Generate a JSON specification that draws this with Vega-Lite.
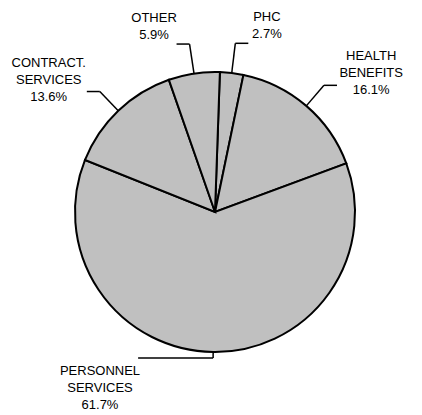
{
  "$schema": "https://vega.github.io/schema/vega-lite/v6.json",
  "width": 414,
  "height": 406,
  "autosize": {"type": "none"},
  "padding": {"left": 8, "top": 9, "right": 0, "bottom": 0},
  "background": "white",
  "config": {"view": {"stroke": null}},
  "data": {
    "values": [
      {"name": "PHC", "pct": 2.7, "order": 1},
      {"name": "HEALTH BENEFITS", "pct": 16.1, "order": 2},
      {"name": "PERSONNEL SERVICES", "pct": 61.7, "order": 3},
      {"name": "CONTRACT. SERVICES", "pct": 13.6, "order": 4},
      {"name": "OTHER", "pct": 5.9, "order": 5}
    ]
  },
  "transform": [
    {"window": [{"op": "sum", "field": "pct", "as": "cum"}], "sort": [{"field": "order"}], "frame": [null, 0]},
    {"calculate": "0.035 + 2*PI*(datum.cum - datum.pct/2)/100", "as": "a"},
    {"calculate": "sin(datum.a) >= 0 ? 1 : -1", "as": "side"},
    {"calculate": "158 + 12*cos(datum.a)", "as": "R"},
    {"calculate": "140*sin(datum.a)", "as": "px1"},
    {"calculate": "140*cos(datum.a)", "as": "py1"},
    {"calculate": "datum.R*sin(datum.a)", "as": "px2"},
    {"calculate": "datum.R*cos(datum.a)", "as": "py2"},
    {"calculate": "datum.px2 + (13 + 62*max(0, -cos(datum.a)))*datum.side", "as": "px3"},
    {"calculate": "max(length(split(datum.name,' ')[0]), length(split(datum.name,' ')[1] || ''), 4)", "as": "mx"},
    {"calculate": "indexof(datum.name, ' ') >= 0 ? 3 : 2", "as": "nl"},
    {"calculate": "datum.px3 + datum.side*(3 + 3.9*datum.mx)", "as": "tx"},
    {"calculate": "datum.py2 + 24*cos(datum.a) - 6 + (datum.nl - 1)*8.5", "as": "ty"},
    {"calculate": "replace(datum.name,' ','\\n') + '\\n' + format(datum.pct,'.1f') + '%'", "as": "label"}
  ],
  "layer": [
    {
      "mark": {"type": "arc", "outerRadius": 140, "fill": "#c0c0c0", "stroke": "black", "strokeWidth": 2},
      "encoding": {
        "theta": {"field": "pct", "type": "quantitative", "stack": true, "scale": {"range": [0.035, 6.31819]}},
        "order": {"field": "order", "type": "quantitative"}
      }
    },
    {
      "mark": {"type": "rule", "stroke": "black", "strokeWidth": 1.5},
      "encoding": {
        "x": {"field": "px1", "type": "quantitative", "scale": {"domain": [-207, 207], "nice": false, "zero": false}, "axis": null},
        "y": {"field": "py1", "type": "quantitative", "scale": {"domain": [-203, 203], "nice": false, "zero": false}, "axis": null},
        "x2": {"field": "px2"},
        "y2": {"field": "py2"}
      }
    },
    {
      "mark": {"type": "rule", "stroke": "black", "strokeWidth": 1.5},
      "encoding": {
        "x": {"field": "px2", "type": "quantitative", "scale": {"domain": [-207, 207], "nice": false, "zero": false}, "axis": null},
        "y": {"field": "py2", "type": "quantitative", "scale": {"domain": [-203, 203], "nice": false, "zero": false}, "axis": null},
        "x2": {"field": "px3"},
        "y2": {"field": "py2"}
      }
    },
    {
      "mark": {"type": "text", "font": "Liberation Sans", "fontSize": 13, "lineHeight": 17, "lineBreak": "\n", "align": "center", "baseline": "middle", "color": "black"},
      "encoding": {
        "x": {"field": "tx", "type": "quantitative", "scale": {"domain": [-207, 207], "nice": false, "zero": false}, "axis": null},
        "y": {"field": "ty", "type": "quantitative", "scale": {"domain": [-203, 203], "nice": false, "zero": false}, "axis": null},
        "text": {"field": "label", "type": "nominal"}
      }
    }
  ]
}
